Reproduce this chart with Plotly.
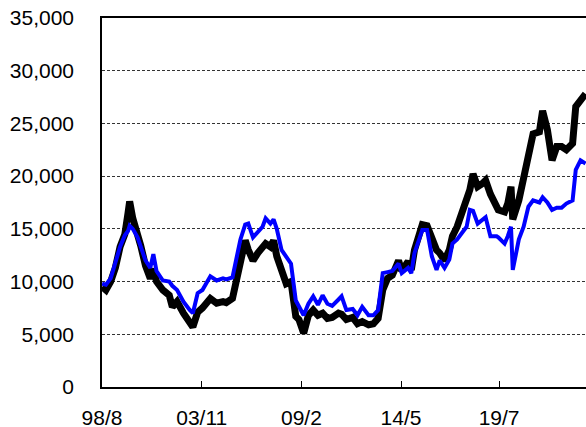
import plotly.graph_objects as go

dates = [
    "1998-08-03", "1998-10-15", "1999-01-15", "1999-04-15", "1999-07-15", "1999-10-15",
    "1999-12-15", "2000-01-15", "2000-03-15", "2000-06-15", "2000-08-15", "2000-11-15",
    "2001-02-15", "2001-04-15", "2001-06-15", "2001-10-15", "2002-02-15", "2002-04-15",
    "2002-07-15", "2002-11-15", "2003-03-15", "2003-05-15", "2003-08-15", "2003-11-15",
    "2004-04-15", "2004-08-15", "2004-12-15", "2005-02-15", "2005-06-15", "2005-09-15",
    "2005-11-15", "2006-02-15", "2006-04-15", "2006-07-15", "2006-10-15", "2007-01-15",
    "2007-03-15", "2007-06-15", "2007-08-15", "2007-10-15", "2008-01-15", "2008-04-15",
    "2008-07-15", "2008-10-15", "2008-12-15", "2009-02-15", "2009-03-15", "2009-06-15",
    "2009-09-15", "2009-12-15", "2010-03-15", "2010-06-15", "2010-09-15", "2011-01-15",
    "2011-03-15", "2011-06-15", "2011-10-15", "2012-01-15", "2012-04-15", "2012-08-15",
    "2012-11-15", "2013-02-15", "2013-05-15", "2013-08-15", "2013-11-15", "2014-03-15",
    "2014-05-15", "2014-09-15", "2014-11-15", "2015-01-15", "2015-04-15", "2015-06-15",
    "2015-09-15", "2015-10-15", "2015-12-15", "2016-03-15", "2016-05-15", "2016-08-15",
    "2016-11-15", "2017-01-15", "2017-04-15", "2017-07-15", "2017-10-15", "2017-12-15",
    "2018-02-15", "2018-05-15", "2018-08-15", "2018-10-15", "2019-01-15", "2019-05-15",
    "2019-06-15", "2019-10-15", "2019-12-15", "2020-02-15", "2020-03-20", "2020-07-15",
    "2020-10-15", "2021-01-15", "2021-04-15", "2021-08-15", "2021-10-15", "2022-01-15",
    "2022-04-15", "2022-07-15", "2022-10-15", "2023-01-15", "2023-05-15", "2023-07-15",
    "2023-10-15", "2024-01-20",
]

black_series = [
    9500, 9200, 10000, 11300, 13300, 14500,
    16500, 17600, 16000, 14000, 13400, 11500,
    10300, 11200, 10000, 9200, 8700, 7600,
    8100, 7000, 6100, 5700, 7100, 7500,
    8400, 7950, 8100, 8000, 8400, 10500,
    12500, 13900, 13000, 12000, 12700, 13200,
    13600, 13300, 13900, 12400, 11100, 9800,
    10000, 6700, 6400, 5300, 5100, 6800,
    7300, 6800, 7000, 6500, 6600, 7000,
    6900, 6400, 6600, 6000, 6200, 5900,
    6000, 6500, 9200, 10300, 10600, 12000,
    11000, 11900, 11100, 13000, 14600, 15400,
    15300, 14900, 14000, 13000, 12700, 12000,
    13000, 14300, 15200, 16500, 17700, 18700,
    20200, 19000, 19300, 19600, 18300, 16800,
    16800, 16600, 17400, 19000, 15900, 17700,
    19900, 22500, 24000, 24200, 26200, 24400,
    21500, 22800, 22800, 22500, 23100, 26600,
    27200, 27800,
]

blue_series = [
    9800, 9700, 10300, 11800, 13300, 14400,
    14800, 15300, 15000, 14200, 13300, 12000,
    11300, 12600, 11000, 10100, 10000, 9600,
    9200, 8100, 7300, 7000, 8900, 9200,
    10500, 10100, 10300, 10200, 10400, 12400,
    14000, 15400, 15500, 14200, 14700, 15200,
    16000, 15500, 15900, 15000, 13000, 12400,
    11700, 8200, 7600, 7000, 6800, 7900,
    8600, 7800, 8700, 7900, 7700, 8300,
    8600, 7300, 7400, 6800, 7600, 6800,
    6800, 7300, 10800, 10900, 11000, 11700,
    10800, 11300, 10800, 12700, 13900, 14900,
    14900, 13900, 12400, 11100, 12000, 11300,
    12100, 13600, 14000, 14600, 15200, 16800,
    16700, 15500, 15800, 16100, 14300, 14300,
    14200, 13600, 14300, 15200, 11100, 14000,
    15200, 17100, 17700, 17500, 18000, 17500,
    16800, 17000, 17000, 17400, 17700, 20600,
    21500, 21200,
]

tick_dates = ["1998-08-01", "2003-11-01", "2009-02-01", "2014-05-01", "2019-07-01"]
tick_labels = ["98/8", "03/11", "09/2", "14/5", "19/7"]
y_ticks = [0, 5000, 10000, 15000, 20000, 25000, 30000, 35000]

fig = go.Figure()
fig.add_trace(go.Scatter(x=dates, y=black_series, mode="lines",
                         line=dict(color="#000000", width=7), showlegend=False))
fig.add_trace(go.Scatter(x=dates, y=blue_series, mode="lines",
                         line=dict(color="#0000ff", width=4), showlegend=False))

fig.update_layout(
    width=586, height=427,
    margin=dict(l=102, r=0, t=18, b=40),
    paper_bgcolor="white", plot_bgcolor="white",
    font=dict(family="Arial, Liberation Sans, sans-serif", size=21, color="#000000"),
    showlegend=False,
)
fig.update_xaxes(
    type="date", range=["1998-08-01", "2024-01-28"],
    tickvals=tick_dates, ticktext=tick_labels,
    showgrid=False, zeroline=False, automargin=False,
    showline=True, linecolor="#000000", linewidth=1.5, mirror=True,
    ticks="inside", ticklen=6, tickcolor="#000000", tickwidth=1,
    ticklabelstandoff=11,
)
fig.update_yaxes(
    range=[0, 35000], tickvals=y_ticks, tickformat=",",
    showgrid=True, gridcolor="#333333", gridwidth=1, griddash="3px,2px",
    zeroline=False, showline=True, linecolor="#000000", linewidth=1.5,
    ticks="", ticklabelstandoff=22, automargin=False,
)

fig.write_html("out.html", config={"displayModeBar": False},
               post_script="document.body.style.margin='0';")
